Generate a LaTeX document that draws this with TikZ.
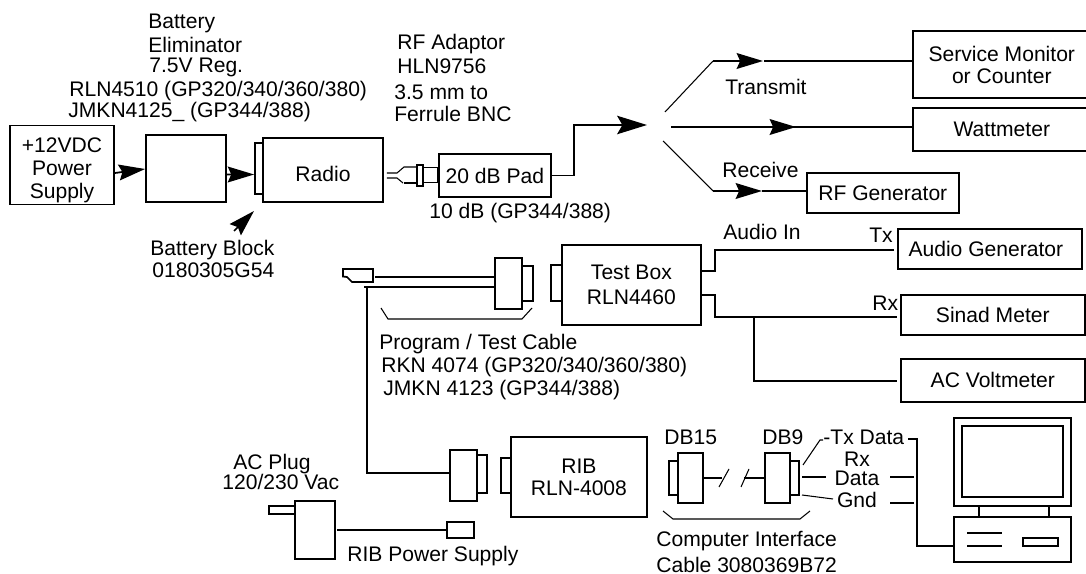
\documentclass[tikz,border=0pt]{standalone}
\usepackage{fontspec}
\setmainfont{Liberation Sans}
\usetikzlibrary{arrows.meta}
\tikzstyle{box} = [rectangle, draw=black, line width=1pt, inner sep=0pt, text centered, align=center]
\tikzstyle{part} = [rectangle, draw=black, line width=1pt, inner sep=0pt]
\tikzstyle{lbl} = [anchor=base west, inner sep=0pt]
\tikzstyle{lblmid} = [anchor=base, inner sep=0pt]
\tikzstyle{wire} = [line width=1pt]
\tikzstyle{thin wire} = [line width=0.6pt]
\tikzstyle{arrow} = [line width=1pt, -{Stealth[length=15pt, width=9pt, inset=2pt]}]
\tikzstyle{bigarrow} = [line width=1pt, -{Stealth[length=17pt, width=10.5pt, inset=3pt]}]

\begin{document}
\begin{tikzpicture}[x=0.02cm, y=-0.02cm, node distance=2cm, font=\fontsize{12}{12.5}\selectfont]
  \useasboundingbox (0,0) rectangle (1086,574);

  % main boxes
  \node (supply) [box, minimum width=2.08cm, minimum height=1.58cm] at (62,165) {\rule{0pt}{14.5pt}+12VDC\hspace{4.5pt}\\[0.5pt]Power\hspace{4.5pt}\\[0.5pt]Supply\hspace{4.5pt}};
  \node (elim) [box, right of=supply, xshift=0.48cm, yshift=-0.07cm, minimum width=1.6cm, minimum height=1.34cm] {};
  \node (radio) [box, right of=elim, xshift=0.74cm, yshift=-0.03cm, minimum width=2.4cm, minimum height=1.28cm] {\rule{0pt}{13.5pt}Radio};
  \node (pad) [box, right of=radio, xshift=1.44cm, yshift=-0.11cm, minimum width=2.24cm, minimum height=0.86cm] {20 dB Pad};

  \node (service) [box, right of=pad, xshift=8.14cm, yshift=2.22cm, minimum width=3.56cm, minimum height=1.34cm] {Service Monitor\\or Counter};
  \node (watt) [box, below of=service, yshift=0.7cm, minimum width=3.56cm, minimum height=0.86cm] {Wattmeter};
  \node (rfgen) [box, below of=watt, xshift=-2.38cm, yshift=0.73cm, minimum width=3.04cm, minimum height=0.8cm] {RF Generator};
  \node (audio) [box, below of=rfgen, xshift=2.14cm, yshift=0.88cm, minimum width=3.68cm, minimum height=0.8cm] {Audio Generator\hspace{4.5pt}};
  \node (sinad) [box, below of=audio, xshift=0.06cm, yshift=0.68cm, minimum width=3.68cm, minimum height=0.8cm] {Sinad Meter};
  \node (acvolt) [box, below of=sinad, yshift=0.69cm, minimum width=3.68cm, minimum height=0.86cm] {AC Voltmeter};

  \node (testbox) [box, left of=audio, xshift=-5.17cm, yshift=-0.72cm, minimum width=2.78cm, minimum height=1.6cm] {Test Box\\[2pt]RLN4460};
  \node (rib) [box, below of=testbox, xshift=-1.05cm, yshift=-1.84cm, minimum width=2.72cm, minimum height=1.6cm] {RIB\\RLN-4008};

  % connectors and tabs
  \node (block) [part, minimum width=0.16cm, minimum height=1.02cm] at (259,168.5) {};
  \node (ferrule) [part, minimum width=0.12cm, minimum height=0.42cm] at (420.3,175.2) {};
  \node (progconn) [part, minimum width=0.54cm, minimum height=1.02cm] at (508.5,283.5) {};
  \node (progtab) [part, minimum width=0.22cm, minimum height=0.7cm] at (527.5,283.5) {};
  \node (testtab) [part, minimum width=0.22cm, minimum height=0.72cm] at (556.5,283) {};
  \node (ribconn) [part, minimum width=0.54cm, minimum height=1.02cm] at (463.5,475.5) {};
  \node (ribconntab) [part, minimum width=0.2cm, minimum height=0.76cm] at (482,474) {};
  \node (ribtab) [part, minimum width=0.2cm, minimum height=0.7cm] at (506,475.5) {};
  \node (dbfifteen) [part, minimum width=0.5cm, minimum height=1cm] at (690.5,478) {};
  \node (dbfifteentab) [part, minimum width=0.18cm, minimum height=0.68cm] at (673.5,478) {};
  \node (dbnine) [part, minimum width=0.5cm, minimum height=1cm] at (777.5,478) {};
  \node (dbninetab) [part, minimum width=0.18cm, minimum height=0.68cm] at (794.5,478) {};

  % rib power supply
  \node (psu) [part, minimum width=0.8cm, minimum height=1.16cm] at (315,530) {};
  \node (prong) [part, minimum width=0.52cm, minimum height=0.16cm] at (282,510) {};
  \node (ribplug) [part, minimum width=0.54cm, minimum height=0.32cm] at (460.5,530) {};

  % computer
  \node (monitor) [part, minimum width=2.34cm, minimum height=1.76cm] at (1012.5,462) {};
  \node (screen) [part, minimum width=2.02cm, minimum height=1.42cm] at (1012.5,461.5) {};
  \node (neck) [part, minimum width=1.4cm, minimum height=0.22cm] at (1014,511.5) {};
  \node (base) [part, minimum width=2.34cm, minimum height=0.9cm] at (1012.5,539.5) {};
  \node (slot) [part, minimum width=0.7cm, minimum height=0.16cm] at (1040.5,542) {};
  \draw [wire] (967,533) -- (1002,533);
  \draw [wire] (967,546) -- (1002,546);

  % labels
  \node (lbatt) [lbl] at (148,29) {Battery};
  \node (lelim) [lbl] at (148,53) {Eliminator};
  \node (lreg) [lbl] at (149,73) {7.5V Reg.};
  \node (lrln) [lbl] at (69,97) {RLN4510 (GP320/340/360/380)};
  \node (ljmk) [lbl] at (68,118) {JMKN4125\_ (GP344/388)};
  \node (lblock) [lbl] at (150,256) {Battery Block};
  \node (lblockno) [lbl] at (152,278) {0180305G54};
  \node (lrf) [lbl] at (397,50) {RF Adaptor};
  \node (lhln) [lbl] at (397,74) {HLN9756};
  \node (lmm) [lbl] at (394,100) {3.5 mm to};
  \node (lbnc) [lbl] at (394,122) {Ferrule BNC};
  \node (lten) [lbl] at (429,219) {10 dB (GP344/388)};
  \node (ltrans) [lbl] at (725,95) {Transmit};
  \node (lrecv) [lbl] at (722,178) {Receive};
  \node (laudio) [lbl] at (723,240) {Audio In};
  \node (ltx) [lbl] at (869,243) {Tx};
  \node (lrx) [lbl] at (872,311) {Rx};
  \node (lprog) [lbl] at (379,350) {Program / Test Cable};
  \node (lrkn) [lbl] at (381,373) {RKN 4074 (GP320/340/360/380)};
  \node (ljmkn) [lbl] at (383,396) {JMKN 4123 (GP344/388)};
  \node (lac) [lbl] at (233,469) {AC Plug};
  \node (lvac) [lbl] at (222,489) {120/230 Vac};
  \node (lpsu) [lbl] at (347,561) {RIB Power Supply};
  \node (ldbf) [lbl] at (664,444) {DB15};
  \node (ldbn) [lbl] at (762,444) {DB9};
  \node (ltxd) [lbl] at (823,444) {-Tx Data};
  \node (lrxd) [lblmid] at (857,466) {Rx};
  \node (ldata) [lblmid] at (857,485) {Data};
  \node (lgnd) [lblmid] at (857,507) {Gnd};
  \node (lcomp) [lbl] at (656,546) {Computer Interface};
  \node (lcable) [lbl] at (656,572) {Cable 3080369B72};

  % top row arrows
  \draw [arrow] ([yshift=-0.16cm]supply.east) -- ([yshift=-0.01cm]elim.west);
  \draw [arrow] ([yshift=-0.12cm]elim.east) -- ([yshift=-0.12cm]block.west);
  \coordinate (blockTail) at (234,231);
  \coordinate (blockTip) at (254,211);
  \draw [arrow] (blockTail) -- (blockTip);

  % rf adaptor
  \coordinate (adTop) at (397,173);
  \coordinate (adBot) at (397,178);
  \draw [thin wire] (radio.east |- adTop) ++(3,0) -- (adTop) -- (404,167) -- (ferrule.west |- 0,167);
  \draw [thin wire] (radio.east |- adBot) ++(3,0) -- (adBot) -- (403,183);
  \draw [wire] (404,183) -- (ferrule.west |- 0,183);
  \draw [wire] (ferrule.east |- 0,167.5) -- (pad.west |- 0,167.5);
  \draw [wire] (ferrule.east |- 0,182.5) -- (pad.west |- 0,182.5);
  \draw [line width=1.6pt] (438,167.5) -- (438,182.5);

  % rf outputs
  \coordinate (padBend) at (574,125);
  \coordinate (forkTip) at (647,125);
  \draw [bigarrow] (pad.east) -| (padBend) -- (forkTip);

  \coordinate (txStart) at (665,112);
  \coordinate (txBend) at (713,61);
  \coordinate (txTip) at (763,61);
  \coordinate (txOut) at (764,61);
  \draw [thin wire] (txStart) -- (txBend);
  \draw [arrow] (txBend) -- (txTip);
  \draw [wire] (txOut) -- (txOut -| service.west);

  \coordinate (wattStart) at (671,127);
  \coordinate (wattTip) at (796,127);
  \draw [wire] (wattStart) -- (wattStart -| watt.west);
  \draw [arrow] (wattStart) -- (wattTip);

  \coordinate (rxStart) at (663,141);
  \coordinate (rxBend) at (713,191);
  \coordinate (rxTip) at (762,191);
  \draw [thin wire] (rxStart) -- (rxBend);
  \draw [arrow] (rxBend) -- (rxTip);
  \draw [wire] (rxTip) -- (rxTip -| rfgen.west);

  % test box outputs
  \coordinate (audioOut) at (701,271);
  \coordinate (audioBend) at (715,250);
  \draw [wire, shorten >=1.5pt] (audioOut) -| (audioBend) -- (audioBend -| audio.west);
  \coordinate (rxOut) at (701,295);
  \coordinate (rxTurn) at (715,317);
  \coordinate (acTurn) at (754,317);
  \coordinate (acBend) at (754,381);
  \draw [wire, shorten >=1.7pt] (rxOut) -| (rxTurn) -- (rxTurn -| sinad.west);
  \draw [wire, shorten >=1.7pt] (acTurn) -- (acBend) -- (acBend -| acvolt.west);

  % program cable
  \draw [wire] (343,269) -- (373,269) -- (373,282) -- (352,282) -- (347,277) -- (343,276.5) -- cycle;
  \coordinate (cableTop) at (375,277);
  \coordinate (cableLow) at (364,287);
  \coordinate (cableTurn) at (367,287);
  \draw [wire] (cableTop) -- (cableTop -| progconn.west);
  \draw [wire] (cableLow) -- (cableLow -| progconn.west);
  \draw [wire] (cableTurn) |- ([yshift=0.05cm]ribconn.west);
  \draw [thin wire] (381,308) -- (388,319) -- (522,319) -- (532,308);

  % rib supply lead
  \coordinate (psuOut) at (337,530);
  \draw [wire] (psuOut) -- (ribplug.west);

  % computer cable
  \draw [wire] (dbfifteen.east) -- (722,478);
  \draw [thin wire] (719,487) -- (729,469);
  \draw [thin wire] (741,487) -- (749,469);
  \draw [wire] (744,478) -- (dbnine.west);
  \draw [thin wire] (803,465) -- (820,440) -- (823,440);
  \draw [wire] (802,477) -- (826,477);
  \draw [thin wire] (802,495) -- (833,499);
  \coordinate (txdStart) at (908,439);
  \coordinate (txdBend) at (917,546);
  \draw [wire] (txdStart) -| (txdBend) -- (txdBend -| base.west);
  \draw [wire] (890,477) -- (914,477);
  \draw [wire] (890,503) -- (914,503);
  \draw [thin wire] (663,511) -- (673,519) -- (800,519) -- (810,511);

\end{tikzpicture}
\end{document}
